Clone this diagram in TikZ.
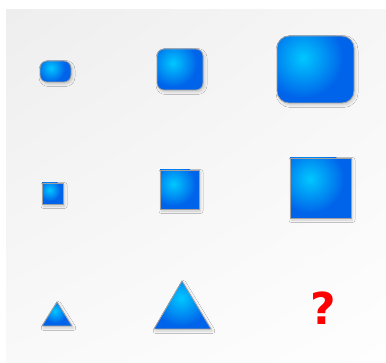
\documentclass[tikz,border=0pt]{standalone}
\usepackage{fontspec}
\newfontfamily\qfont{DejaVu Sans}
\usetikzlibrary{shadows.blur,shadings}
\definecolor{glowin}{RGB}{0,200,255}
\definecolor{glowout}{RGB}{0,100,234}
\definecolor{edgecol}{RGB}{160,160,160}
\definecolor{bgtl}{RGB}{238,238,238}
\definecolor{bgtr}{RGB}{246,246,246}
\definecolor{bgbl}{RGB}{249,249,249}
\definecolor{bgbr}{RGB}{254,254,254}
\tikzset{
  shpfill/.style={fill=glowout, blur shadow={shadow xshift=1.5pt, shadow yshift=-2pt, shadow blur radius=2.5pt, shadow opacity=18}},
  shpedge/.style={draw=edgecol, line width=0.8pt},
  glowspot/.style={inner color=glowin, outer color=glowout},
  qmark/.style={text=red, inner sep=0pt, anchor=base, font=\qfont\bfseries\fontsize{44}{44}\selectfont}
}
% #1 path, #2 x, #3 y of the highlight, #4 its radius
\newcommand\glowshape[4]{%
  \path[shpfill] #1;
  \begin{scope}
    \clip #1;
    \shade[glowspot] (#2,#3) circle (#4);
  \end{scope}
  \path[shpedge] #1;
}
\begin{document}
\begin{tikzpicture}[x=1pt,y=-1pt]
\useasboundingbox (0,0) rectangle (386,363);
\fill[white] (0,0) rectangle (386,363);
\shade[upper left=bgtl, upper right=bgtr, lower left=bgbl, lower right=bgbr] (6,10) rectangle (386,363);
% row 1: rounded rectangles
\glowshape{[rounded corners=7pt] (40,61) rectangle (71,82)}{51}{68}{14}
\glowshape{[rounded corners=7pt] (157,49) rectangle (203,90)}{173}{63}{24}
\glowshape{[rounded corners=12pt] (277,36) rectangle (354,103)}{303}{58}{40}
% row 2: squares
\glowshape{(42,183) rectangle (63,204)}{49.5}{190}{11}
\glowshape{(160,170) rectangle (199,209)}{173.5}{184}{22}
\glowshape{(290,158) rectangle (351,218)}{310}{179}{34}
% row 3: triangles
\glowshape{(57,302) -- (72,326) -- (42,326) -- cycle}{55}{311}{12}
\glowshape{(182,281) -- (211,329) -- (154,329) -- cycle}{181}{298}{28}
\node[qmark] (q) at (323.5,325) {?};
\end{tikzpicture}
\end{document}
